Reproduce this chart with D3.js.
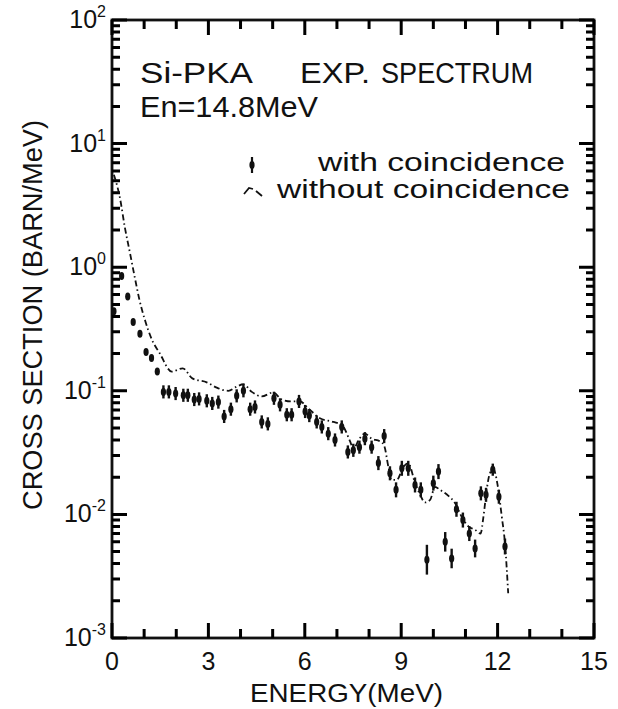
<!DOCTYPE html>
<html>
<head>
<meta charset="utf-8">
<script src="https://cdn.jsdelivr.net/npm/d3@7/dist/d3.min.js"></script>
<style>
  body { margin: 0; background: #fff; }
  text { font-family: "Liberation Sans", Arial, sans-serif; fill: #111; }
</style>
</head>
<body>
<script>
// with coincidence (points with error bars)
var withE = [0.06, 0.30, 0.49, 0.66, 0.87, 1.06, 1.23, 1.41, 1.60, 1.77,
             1.98, 2.22, 2.36, 2.56, 2.71, 2.95, 3.12, 3.31, 3.49, 3.70,
             3.88, 4.09, 4.30, 4.45, 4.66, 4.85, 5.04, 5.23, 5.44, 5.59,
             5.82, 6.01, 6.14, 6.37, 6.53, 6.73, 6.94, 7.15, 7.34, 7.51,
             7.70, 7.87, 8.08, 8.29, 8.47, 8.65, 8.84, 9.02, 9.22, 9.43,
             9.61, 9.80, 10.00, 10.16, 10.37, 10.57, 10.72, 10.92, 11.12, 11.30,
             11.48, 11.64, 11.85, 12.04, 12.23];
var withV = [0.44, 0.85, 0.58, 0.36, 0.29, 0.206, 0.184, 0.143, 0.098, 0.098,
             0.095, 0.092, 0.092, 0.085, 0.086, 0.083, 0.079, 0.081, 0.062, 0.071,
             0.091, 0.100, 0.071, 0.074, 0.056, 0.054, 0.087, 0.077, 0.064, 0.064,
             0.082, 0.068, 0.063, 0.056, 0.051, 0.045, 0.040, 0.051, 0.032, 0.033,
             0.035, 0.041, 0.035, 0.026, 0.043, 0.0215, 0.0158, 0.0236, 0.0236, 0.0173,
             0.0158, 0.0043, 0.0179, 0.0222, 0.0060, 0.0044, 0.0110, 0.0090, 0.0070, 0.0053,
             0.0148, 0.0144, 0.0230, 0.0139, 0.0055];
// relative error
var withErr = [0.04, 0.04, 0.04, 0.04, 0.04, 0.05, 0.05, 0.06, 0.13, 0.13,
               0.13, 0.13, 0.13, 0.13, 0.13, 0.13, 0.13, 0.13, 0.13, 0.13,
               0.13, 0.13, 0.13, 0.13, 0.13, 0.13, 0.13, 0.13, 0.13, 0.13,
               0.13, 0.13, 0.13, 0.13, 0.13, 0.13, 0.13, 0.13, 0.13, 0.13,
               0.13, 0.13, 0.13, 0.14, 0.14, 0.14, 0.15, 0.15, 0.15, 0.15,
               0.15, 0.32, 0.15, 0.15, 0.20, 0.20, 0.15, 0.15, 0.15, 0.18,
               0.14, 0.14, 0.12, 0.14, 0.16];

// without coincidence (line)
var withoutE = [0.06, 0.25, 0.40, 0.56, 0.70, 0.85, 1.03, 1.24, 1.49, 1.86,
                2.20, 2.50, 2.95, 3.26, 3.62, 3.88, 4.09, 4.35, 4.66, 5.02,
                5.28, 5.59, 5.85, 6.11, 6.47, 6.89, 7.15, 7.41, 7.51, 7.70,
                7.87, 8.08, 8.34, 8.47, 8.60, 8.70, 8.86, 9.07, 9.22, 9.43,
                9.59, 9.74, 9.90, 10.05, 10.21, 10.47, 10.68, 10.88, 11.09, 11.30,
                11.47, 11.56, 11.66, 11.76, 11.87, 11.99, 12.13, 12.23, 12.33];
var withoutV = [5.6, 3.6, 2.1, 1.3, 0.85, 0.55, 0.37, 0.26, 0.20, 0.143,
                0.152, 0.126, 0.117, 0.106, 0.100, 0.108, 0.113, 0.098, 0.090, 0.097,
                0.085, 0.082, 0.082, 0.072, 0.060, 0.056, 0.053, 0.039, 0.034, 0.041,
                0.045, 0.041, 0.039, 0.036, 0.0243, 0.019, 0.019, 0.0243, 0.026, 0.018,
                0.0144, 0.0125, 0.0131, 0.0167, 0.0158, 0.0141, 0.0123, 0.0096, 0.0080, 0.0075,
                0.0070, 0.0096, 0.0158, 0.0215, 0.0232, 0.0179, 0.0096, 0.0058, 0.0023];

var xMajor = [0, 3, 6, 9, 12, 15];
var xMinor = [1, 2, 4, 5, 7, 8, 10, 11, 13, 14];
var yDecades = [1e-3, 1e-2, 1e-1, 1e0, 1e1, 1e2];
var yExps = ["-3", "-2", "-1", "0", "1", "2"];
var yMinorMult = [2, 3, 4, 5, 6, 7, 8, 9];

var W = 618, H = 709;
var plotL = 112, plotR = 594, plotT = 20, plotB = 638;

var svg = d3.select("body").append("svg")
    .attr("width", W)
    .attr("height", H);

var x = d3.scaleLinear().domain([0, 15]).range([plotL, plotR]);
var y = d3.scaleLog().domain([1e-3, 1e2]).range([plotB, plotT]);

var yMinor = [];
yDecades.slice(0, -1).forEach(function(d) {
  yMinorMult.forEach(function(m) { yMinor.push(d * m); });
});

// ---- frame
svg.append("rect")
    .attr("x", plotL).attr("y", plotT)
    .attr("width", plotR - plotL).attr("height", plotB - plotT)
    .attr("fill", "none").attr("stroke", "#111").attr("stroke-width", 2.8);

// ---- inward ticks, built as one path from the scales
var tickPath = [];
function xTicks(vals, len) {
  vals.forEach(function(d) {
    tickPath.push("M" + x(d) + "," + plotB + "v" + (-len));
    tickPath.push("M" + x(d) + "," + plotT + "v" + len);
  });
}
function yTicks(vals, len) {
  vals.forEach(function(d) {
    tickPath.push("M" + plotL + "," + y(d) + "h" + len);
    tickPath.push("M" + plotR + "," + y(d) + "h" + (-len));
  });
}
xTicks(xMinor, 9);
xTicks(xMajor, 15);
yTicks(yMinor, 8);
yTicks(yDecades, 15);
svg.append("path")
    .attr("d", tickPath.join(""))
    .attr("fill", "none")
    .attr("stroke", "#000")
    .attr("stroke-width", 3);

// x tick labels
svg.append("g").selectAll("text")
    .data(xMajor)
  .enter().append("text")
    .attr("x", function(d) { return x(d); })
    .attr("y", plotB + 32)
    .attr("text-anchor", "middle")
    .attr("font-size", 25)
    .text(function(d) { return d; });

// y tick labels 10^n
var ylab = svg.append("g").selectAll("text")
    .data(yDecades)
  .enter().append("text")
    .attr("x", plotL - 6)
    .attr("y", function(d) { return y(d) + 8; })
    .attr("text-anchor", "end")
    .attr("font-size", 25);
ylab.append("tspan").text("10");
ylab.append("tspan")
    .attr("font-size", 16)
    .attr("dy", -11)
    .text(function(d, i) { return yExps[i]; });

// ---- axis titles
svg.append("text")
    .attr("x", 250).attr("y", 702)
    .attr("font-size", 25)
    .attr("textLength", 193).attr("lengthAdjust", "spacingAndGlyphs")
    .text("ENERGY(MeV)");
svg.append("text")
    .attr("transform", "translate(42,510) rotate(-90)")
    .attr("font-size", 27)
    .attr("textLength", 390).attr("lengthAdjust", "spacingAndGlyphs")
    .text("CROSS SECTION (BARN/MeV)");

// ---- headline
svg.append("text").attr("x", 140).attr("y", 83).attr("font-size", 29)
    .attr("textLength", 113).attr("lengthAdjust", "spacingAndGlyphs").text("Si-PKA");
svg.append("text").attr("x", 300).attr("y", 83).attr("font-size", 29)
    .attr("textLength", 70).attr("lengthAdjust", "spacingAndGlyphs").text("EXP.");
svg.append("text").attr("x", 381).attr("y", 83).attr("font-size", 29)
    .attr("textLength", 152).attr("lengthAdjust", "spacingAndGlyphs").text("SPECTRUM");
svg.append("text").attr("x", 140).attr("y", 117).attr("font-size", 29)
    .attr("textLength", 178).attr("lengthAdjust", "spacingAndGlyphs").text("En=14.8MeV");

// ---- legend
svg.append("line")
    .attr("x1", 252).attr("x2", 252).attr("y1", 157).attr("y2", 173)
    .attr("stroke", "#111").attr("stroke-width", 2.2);
svg.append("ellipse")
    .attr("cx", 252).attr("cy", 165).attr("rx", 2.6).attr("ry", 4)
    .attr("fill", "#111");
svg.append("text").attr("x", 318).attr("y", 171).attr("font-size", 25)
    .attr("textLength", 247).attr("lengthAdjust", "spacingAndGlyphs").text("with coincidence");
svg.append("path")
    .attr("d", "M244,194 L249,188 L253,189 M256,191 L262,196")
    .attr("fill", "none").attr("stroke", "#111").attr("stroke-width", 1.8);
svg.append("text").attr("x", 277).attr("y", 198).attr("font-size", 25)
    .attr("textLength", 293).attr("lengthAdjust", "spacingAndGlyphs").text("without coincidence");

// ---- without coincidence line
var withoutData = withoutE.map(function(e, i) { return {e: e, v: withoutV[i]}; });
var line = d3.line()
    .x(function(d) { return x(d.e); })
    .y(function(d) { return y(d.v); })
    .curve(d3.curveMonotoneX);
svg.append("path")
    .datum(withoutData)
    .attr("d", line)
    .attr("fill", "none")
    .attr("stroke", "#111")
    .attr("stroke-width", 1.8)
    .attr("stroke-dasharray", "6,3,1.5,3");

// ---- with coincidence points
var withData = withE.map(function(e, i) { return {e: e, v: withV[i], err: withErr[i]}; });
var pts = svg.append("g").selectAll("g")
    .data(withData)
  .enter().append("g");
pts.append("line")
    .attr("x1", function(d) { return x(d.e); })
    .attr("x2", function(d) { return x(d.e); })
    .attr("y1", function(d) { return y(d.v * (1 + d.err)); })
    .attr("y2", function(d) { return y(d.v / (1 + d.err)); })
    .attr("stroke", "#111")
    .attr("stroke-width", 2.4);
pts.append("ellipse")
    .attr("cx", function(d) { return x(d.e); })
    .attr("cy", function(d) { return y(d.v); })
    .attr("rx", 2.6)
    .attr("ry", 4)
    .attr("fill", "#111");
</script>
</body>
</html>
